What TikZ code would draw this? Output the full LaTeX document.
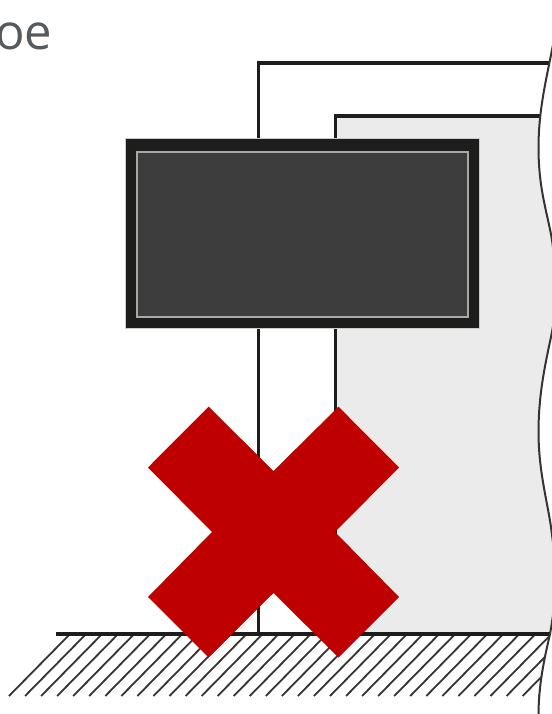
\documentclass[tikz,border=0pt]{standalone}
\usepackage{fontspec}
\setmainfont{Open Sans}
\definecolor{wallgray}{HTML}{EBEBEB}
\definecolor{linedark}{HTML}{1D1D1B}
\definecolor{screengray}{HTML}{3E3D3D}
\definecolor{framegray}{HTML}{A8A8A8}
\definecolor{crossred}{HTML}{BE0000}
\definecolor{textgray}{HTML}{555A5E}
\newcommand{\wavepath}{(553,45) .. controls (545,85) and (538.5,112) .. (538.5,148) .. controls (538.5,190) and (548,215) .. (552,240) .. controls (555,262) and (556,275) .. (556,285) .. controls (556,300) and (555,318) .. (551,337) .. controls (545,365) and (538.5,395) .. (538.5,432) .. controls (538.5,470) and (547,500) .. (551,527) .. controls (554,550) and (556,565) .. (556,578) .. controls (556,592) and (554,612) .. (550,634) .. controls (544,660) and (538.5,685) .. (538.5,716)}
\tikzset{
    wallline/.style={line width=3.3pt, draw=linedark},
    hatchline/.style={line width=1.8pt, draw=linedark!90},
}
\begin{document}
\begin{tikzpicture}[x=1pt, y=-1pt]
    \useasboundingbox (0,0) rectangle (551,714);
    \fill[white] (0,0) rectangle (551,714);
    \begin{scope}
        \clip (-10,45) -- \wavepath -- (-10,716) -- cycle;
        \fill[wallgray] (335.5,116) rectangle (560,634);
        \draw[wallline] (258.5,634) -- (258.5,63) -- (560,63);
        \draw[wallline] (335.5,634) -- (335.5,116) -- (560,116);
        \foreach \k in {0,...,33} {
            \draw[hatchline] ({70+16.05*\k},634) -- ({9+16.05*\k},696);
        }
        \draw[wallline] (56,634) -- (560,634);
    \end{scope}
    \draw[line width=2pt, draw=linedark!90] \wavepath;
    % screen
    \draw[line width=1pt, draw=framegray!60, fill=linedark] (125.5,139) rectangle (479.5,328);
    \draw[line width=1.8pt, draw=framegray, fill=screengray] (137,152) rectangle (468,317);
    % cross
    \fill[crossred] (208.7,406.7) -- (273.5,471) -- (338.5,406.7) -- (399,467.5) -- (335,532) -- (399,597) -- (338.5,657.5) -- (273.5,593) -- (208.7,657.5) -- (148,597) -- (212,532) -- (148,467.5) -- cycle;
    \node[anchor=base west, inner sep=0pt, text=textgray, font=\fontsize{49}{49}\selectfont] (oelabel) at (-5,50) {oe};
\end{tikzpicture}
\end{document}
